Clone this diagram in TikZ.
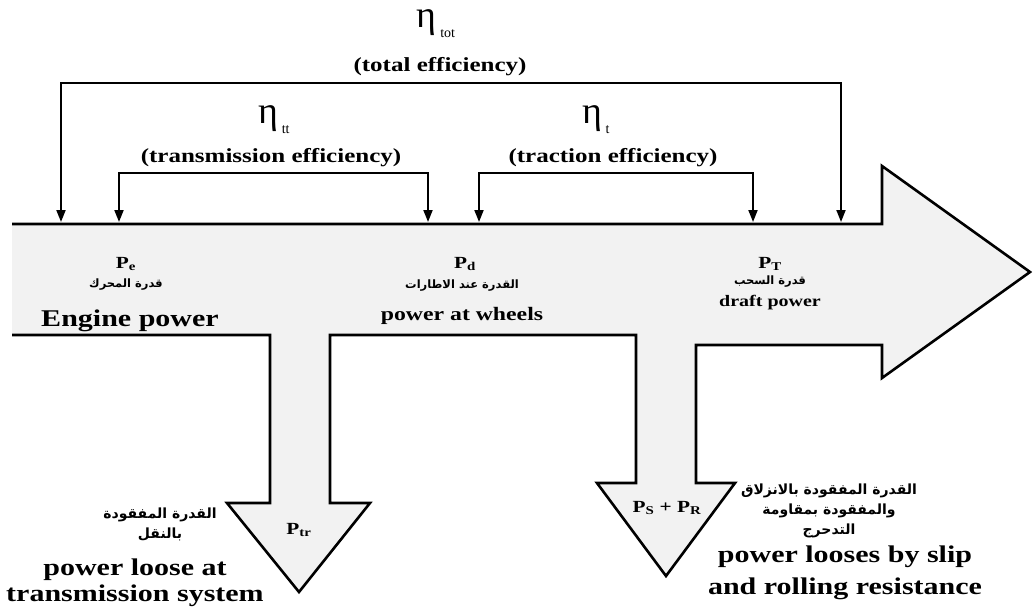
\documentclass[tikz,border=0pt]{standalone}
\usepackage{fontspec}
\setmainfont{Liberation Serif}
\newfontfamily\widefont[FakeStretch=1.25]{Liberation Serif}
\newfontfamily\arabicfont[Script=Arabic]{DejaVu Sans Bold}
\TeXXeTstate=1
\usetikzlibrary{arrows.meta}
\begin{document}
\begin{tikzpicture}[x=1pt,y=-1pt,
  body/.style={line width=2.6pt,line join=miter},
  bracket/.style={line width=1.8pt,{Triangle[length=12pt,width=9pt]}-{Triangle[length=12pt,width=9pt]}},
  engbig/.style={font=\widefont\bfseries\fontsize{24}{26}\selectfont,align=center,inner sep=0pt},
  eng/.style={font=\widefont\bfseries\fontsize{19}{21}\selectfont,align=center,inner sep=0pt},
  engs/.style={font=\widefont\bfseries\fontsize{16}{18}\selectfont,align=center,inner sep=0pt},
  sym/.style={font=\widefont\bfseries\fontsize{17}{19}\selectfont,inner sep=0pt},
  ar/.style={font=\arabicfont\fontsize{11.5}{16}\selectfont,align=center,inner sep=0pt},
  arbig/.style={font=\arabicfont\fontsize{14}{20}\selectfont,align=center,inner sep=0pt},
  eta/.style={font=\fontsize{38}{38}\selectfont,inner sep=0pt},
  effl/.style={font=\widefont\bfseries\fontsize{20}{22}\selectfont,inner sep=0pt}]
\useasboundingbox (0,0) rectangle (1036,613);
% main arrow body
\fill[gray!10] (12,224) -- (882,224) -- (882,166) -- (1030,272) -- (882,378) -- (882,345)
  -- (696,345) -- (696,483) -- (735,483) -- (666,576) -- (597,483) -- (636,483) -- (636,335)
  -- (330,335) -- (330,503) -- (370,503) -- (299,592) -- (227,503) -- (270,503) -- (270,335)
  -- (12,335) -- cycle;
\draw[body] (12,224) -- (882,224) -- (882,166) -- (1030,272) -- (882,378) -- (882,345)
  -- (696,345) -- (696,483) -- (735,483) -- (666,576) -- (597,483) -- (636,483) -- (636,335)
  -- (330,335) -- (330,503) -- (370,503) -- (299,592) -- (227,503) -- (270,503) -- (270,335)
  -- (12,335);
% bracket coordinates
\coordinate (ta) at (61,83);  \coordinate (tb) at (841,83);
\coordinate (ea) at (61,222); \coordinate (eb) at (841,222);
\coordinate (ra) at (119,173); \coordinate (rb) at (428,173);
\coordinate (fa) at (119,222); \coordinate (fb) at (428,222);
\coordinate (ca) at (479,173); \coordinate (cb) at (753,173);
\coordinate (ga) at (479,222); \coordinate (gb) at (753,222);
\draw[bracket] (ea) -- (ta) -- (tb) -- (eb);
\draw[bracket] (fa) -- (ra) -- (rb) -- (fb);
\draw[bracket] (ga) -- (ca) -- (cb) -- (gb);
% efficiency labels
\node[eta] (etot) at (436,24) {η\raisebox{-10pt}{\fontsize{14}{14}\selectfont\ tot}};
\node[effl] (ltot) at (440,67) {(total efficiency)};
\node[eta] (etr) at (274,120) {η\raisebox{-10pt}{\fontsize{14}{14}\selectfont\ tt}};
\node[effl] (ltr) at (271,158) {(transmission efficiency)};
\node[eta] (etc) at (596,120) {η\raisebox{-10pt}{\fontsize{14}{14}\selectfont\ t}};
\node[effl] (ltc) at (613,158) {(traction efficiency)};
% power labels on the body
\node[sym] (pe) at (126,264) {P\textsubscript{e}};
\node[ar] (pea) at (126,285) {\beginR قدرة المحرك\endR};
\node[engbig] (pen) at (130,321) {Engine power};
\node[sym] (pd) at (465,264) {P\textsubscript{d}};
\node[ar] (pda) at (462,286) {\beginR القدرة عند الاطارات\endR};
\node[eng] (pdn) at (462,316) {power at wheels};
\node[sym] (pt) at (770,264) {P\textsubscript{T}};
\node[ar] (pta) at (770,282) {\beginR قدرة السحب\endR};
\node[engs] (ptn) at (770,303) {draft power};
% losses
\node[sym] (ptr) at (299,530) {P\textsubscript{tr}};
\node[sym] (psr) at (667,508) {P\textsubscript{S} + P\textsubscript{R}};
\node[arbig] (lla) at (160,524) {\beginR القدرة المفقودة\endR\\\beginR بالنقل\endR};
\node[engbig] (lln) at (135,583) {power loose at\\transmission system};
\node[arbig] (lra) at (829,511) {\beginR القدرة المفقودة بالانزلاق\endR\\\beginR والمفقودة بمقاومة\endR\\\beginR التدحرج\endR};
\node[font=\widefont\bfseries\fontsize{24}{32}\selectfont,align=center,inner sep=0pt] (lrn) at (845,573) {power looses by slip\\and rolling resistance};
\end{tikzpicture}
\end{document}
